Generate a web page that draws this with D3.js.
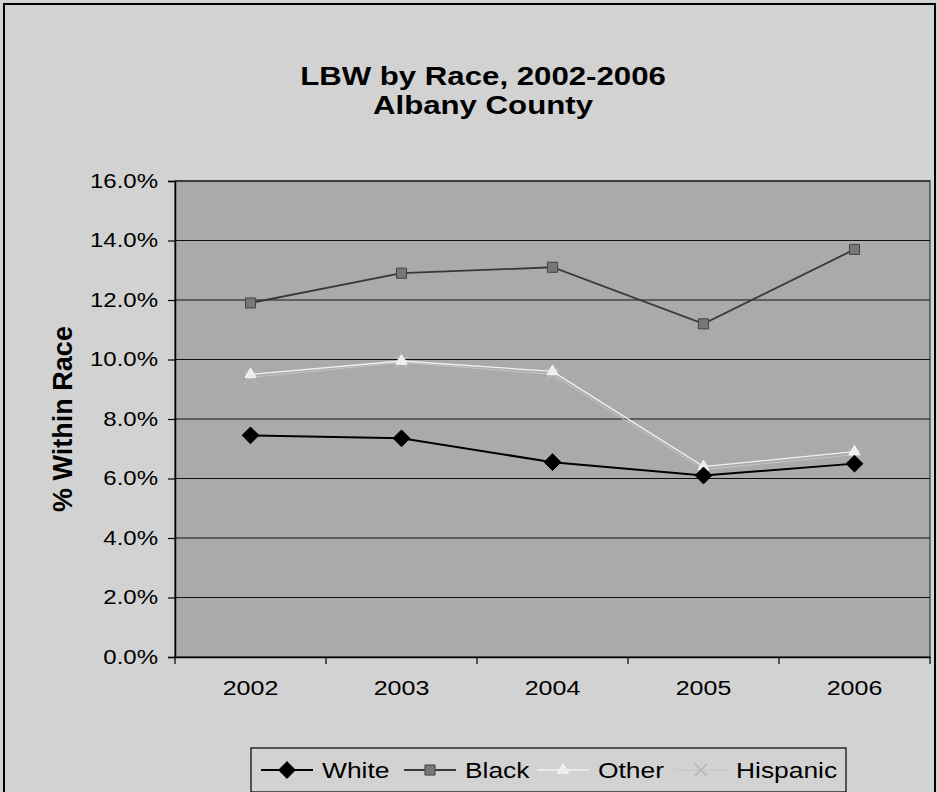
<!DOCTYPE html>
<html>
<head>
<meta charset="utf-8">
<script src="https://cdn.jsdelivr.net/npm/d3@7"></script>
<style>
  html, body { margin: 0; padding: 0; background: #d2d2d2; }
  svg { display: block; }
  text { font-family: Arial, "Liberation Sans", sans-serif; fill: #000; }
</style>
</head>
<body>
<svg id="chart" width="938" height="792"></svg>
<script>
// Years on the category axis
const years = ["2002", "2003", "2004", "2005", "2006"];
// Percent of births that were low birth weight, within each race
const white    = [7.45, 7.35, 6.55, 6.10, 6.50];
const black    = [11.9, 12.9, 13.1, 11.2, 13.7];
const other    = [9.5, 9.95, 9.6, 6.4, 6.9];
const hispanic = [9.4, 9.9, 9.5, 6.3, 6.8];
const seriesNames = ["White", "Black", "Other", "Hispanic"];
const yTicks = [0, 2, 4, 6, 8, 10, 12, 14, 16];

const svg = d3.select("#chart");
const W = 938, H = 792;
const plot = { left: 175, top: 181, right: 930, bottom: 657 };
const SX = 1.2; // horizontal widening of the lettering

// widen a text element horizontally around its own x anchor
function widen(sel, sx) {
  sel.each(function () {
    const t = d3.select(this);
    const x0 = +t.attr("x") || 0;
    t.attr("x", x0 / sx).attr("transform", `scale(${sx},1)`);
  });
}

// chart frame
svg.append("rect").attr("x", 0).attr("y", 0).attr("width", W).attr("height", H).attr("fill", "#d2d2d2");
svg.append("rect").attr("x", 4).attr("y", 4).attr("width", W - 7).attr("height", H + 10)
  .attr("fill", "none").attr("stroke", "#000").attr("stroke-width", 2);

const x = d3.scaleBand().domain(years).range([plot.left, plot.right]);
const y = d3.scaleLinear().domain([0, 16]).range([plot.bottom, plot.top]);

// plot area
svg.append("rect").attr("x", plot.left).attr("y", plot.top)
  .attr("width", plot.right - plot.left).attr("height", plot.bottom - plot.top)
  .attr("fill", "#aaaaaa").attr("stroke", "#333").attr("stroke-width", 1.2);

// horizontal gridlines
svg.append("g").selectAll("line").data(yTicks.slice(1)).join("line")
  .attr("x1", plot.left).attr("x2", plot.right)
  .attr("y1", d => y(d)).attr("y2", d => y(d))
  .attr("stroke", "#111").attr("stroke-width", 1.2);

// axes
const yAxis = svg.append("g").attr("transform", `translate(${plot.left},0)`)
  .call(d3.axisLeft(y).tickValues(yTicks).tickSize(7).tickPadding(10)
    .tickFormat(d => d.toFixed(1) + "%"));
yAxis.select(".domain").attr("stroke", "#000").attr("stroke-width", 1.5);
yAxis.selectAll(".tick line").attr("stroke", "#000").attr("stroke-width", 1.2);
yAxis.selectAll(".tick text").attr("font-size", 20).attr("font-family", "Arial, 'Liberation Sans', sans-serif")
  .call(widen, SX);

const xAxis = svg.append("g").attr("transform", `translate(0,${plot.bottom})`)
  .call(d3.axisBottom(x).tickSize(0).tickPadding(24));
xAxis.select(".domain").attr("stroke", "#000").attr("stroke-width", 1.5);
xAxis.selectAll(".tick text").attr("font-size", 20).attr("font-family", "Arial, 'Liberation Sans', sans-serif")
  .call(widen, 1.25);
// category boundary ticks
svg.append("g").selectAll("line").data(years.concat(["end"])).join("line")
  .attr("x1", (d, i) => plot.left + i * x.bandwidth())
  .attr("x2", (d, i) => plot.left + i * x.bandwidth())
  .attr("y1", plot.bottom).attr("y2", plot.bottom + 7)
  .attr("stroke", "#000").attr("stroke-width", 1.2);

// titles
svg.append("text").attr("x", 483).attr("y", 85).attr("text-anchor", "middle")
  .attr("font-size", 26).attr("font-weight", "bold").text("LBW by Race, 2002-2006").call(widen, SX);
svg.append("text").attr("x", 483).attr("y", 114).attr("text-anchor", "middle")
  .attr("font-size", 26).attr("font-weight", "bold").text("Albany County").call(widen, SX);
svg.append("text").attr("transform", `translate(72,${(plot.top + plot.bottom) / 2}) rotate(-90)`)
  .attr("text-anchor", "middle").attr("font-size", 27).attr("font-weight", "bold").text("% Within Race");

// series styles
const styles = {
  White:    { values: white,    line: "#000",    width: 2,   marker: "diamond",  fill: "#000",    stroke: "#000" },
  Black:    { values: black,    line: "#383838", width: 1.8, marker: "square",   fill: "#777",    stroke: "#444" },
  Other:    { values: other,    line: "#f2f2f2", width: 1.3, marker: "triangle", fill: "#eeeeee", stroke: "#f6f6f6" },
  Hispanic: { values: hispanic, line: "#c4c4c4", width: 1,   marker: "cross",    fill: "none",    stroke: "#b8b8b8" }
};
const symbolFor = {
  diamond: d3.symbol().type(d3.symbolDiamond2).size(180),
  square: d3.symbol().type(d3.symbolSquare2).size(130),
  triangle: d3.symbol().type(d3.symbolTriangle2).size(90),
  cross: d3.symbol().type(d3.symbolX).size(100)
};

const line = d3.line().x((d, i) => x(years[i]) + x.bandwidth() / 2).y(d => y(d));
const drawOrder = ["Hispanic", "Other", "Black", "White"];
drawOrder.forEach(name => {
  const s = styles[name];
  const g = svg.append("g");
  g.append("path").datum(s.values).attr("d", line)
    .attr("fill", "none").attr("stroke", s.line).attr("stroke-width", s.width);
  g.selectAll("path.m").data(s.values).join("path").attr("class", "m")
    .attr("d", symbolFor[s.marker])
    .attr("transform", (d, i) => `translate(${x(years[i]) + x.bandwidth() / 2},${y(d)})`)
    .attr("fill", s.fill).attr("stroke", s.stroke).attr("stroke-width", s.marker === "cross" ? 1.5 : 1);
});

// legend
const legend = svg.append("g");
legend.append("rect").attr("x", 251).attr("y", 748).attr("width", 595).attr("height", 44)
  .attr("fill", "#d2d2d2").attr("stroke", "#000").attr("stroke-width", 1.2);
const legendX = { White: 261, Black: 404, Other: 537, Hispanic: 675 };
seriesNames.forEach(name => {
  const s = styles[name];
  const lx = legendX[name], ly = 770;
  legend.append("line").attr("x1", lx).attr("x2", lx + 52).attr("y1", ly).attr("y2", ly)
    .attr("stroke", s.line).attr("stroke-width", s.width);
  legend.append("path").attr("d", symbolFor[s.marker])
    .attr("transform", `translate(${lx + 26},${ly})`)
    .attr("fill", s.fill).attr("stroke", s.stroke).attr("stroke-width", s.marker === "cross" ? 1.5 : 1);
  legend.append("text").attr("x", lx + 61).attr("y", ly + 8).attr("font-size", 22).text(name)
    .call(widen, SX);
});
</script>
</body>
</html>
